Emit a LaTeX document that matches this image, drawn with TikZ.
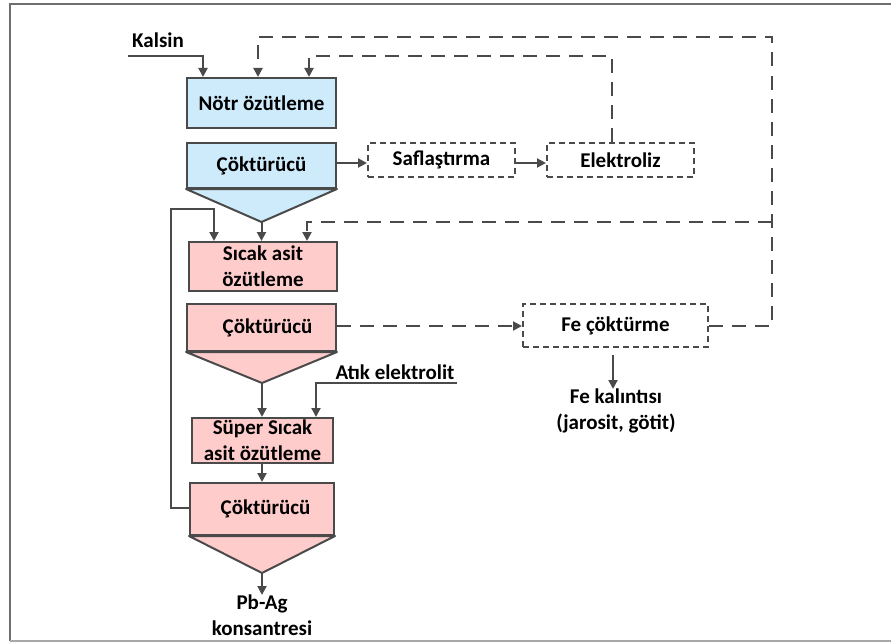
\documentclass[tikz,border=0pt]{standalone}
\usepackage{fontspec}
\setmainfont{Carlito}
\usetikzlibrary{arrows.meta}
\definecolor{ink}{HTML}{4A4A4A}
\definecolor{framegray}{HTML}{6E6E6E}
\definecolor{blueFill}{HTML}{CDEBFB}
\definecolor{pinkFill}{HTML}{FFCCCC}
\begin{document}
\begin{tikzpicture}[x=1pt,y=-1pt,
  txt/.style={font=\bfseries\fontsize{21}{26}\selectfont, text=black, align=center},
  box/.style={txt, draw=ink, line width=2pt, inner sep=0pt},
  bluebox/.style={box, fill=blueFill},
  pinkbox/.style={box, fill=pinkFill},
  dbox/.style={box, line width=2pt, dash pattern=on 6pt off 4pt},
  lbl/.style={txt, inner sep=0pt},
  wire/.style={draw=ink, line width=2pt},
  flow/.style={wire, -{Triangle[length=9pt,width=9pt]}},
  feed/.style={flow, dash pattern=on 14pt off 9pt},
  hopper/.style={fill=#1, draw=ink, line width=2pt, line join=round}]
\useasboundingbox (0,0) rectangle (891,642);

% frame
\draw[framegray, line width=2pt] (895,4) -- (9.5,4) -- (9.5,641);
\draw[framegray!60, line width=1.5pt] (9.5,641) -- (895,641);

% neutral leach stage
\node[bluebox, minimum width=149pt, minimum height=50pt] (nod) at (261.5,103) {Nötr özütleme};
\node[bluebox, minimum width=149pt, minimum height=45pt] (cok1) at (261.5,165.5) {Çöktürücü};
\coordinate (apex1) at (261.5,222);
\filldraw[hopper=blueFill] (cok1.south west) -- (apex1) -- (cok1.south east) -- cycle;

% purification and electrolysis
\node[dbox, minimum width=147pt, minimum height=34pt] (saf) at (441.5,160) {Saflaştırma};
\node[dbox, minimum width=147pt, minimum height=34pt] (ele) at (620.5,160) {Elektroliz};

% hot acid leach stage
\node[pinkbox, minimum width=148pt, minimum height=49pt] (sic) at (263,266.5) {Sıcak asit\\özütleme};
\node[pinkbox, minimum width=149pt, minimum height=47pt] (cok2) at (261.5,327.5) {\hspace*{12pt}Çöktürücü};
\coordinate (apex2) at (262,383);
\filldraw[hopper=pinkFill] (cok2.south west) -- (apex2) -- (cok2.south east) -- cycle;

% iron removal
\node[dbox, minimum width=185pt, minimum height=43pt] (fe) at (615.5,325.5) {Fe çöktürme};
\node[lbl, anchor=north] (fek) at (616,389) {Fe kalıntısı\\(jarosit, götit)};

% super hot acid leach stage
\node[pinkbox, minimum width=141pt, minimum height=45pt] (sup) at (262.5,440.5) {Süper Sıcak\\asit özütleme};
\node[pinkbox, minimum width=144pt, minimum height=52pt] (cok3) at (262,509) {\hspace*{7pt}Çöktürücü};
\coordinate (apex3) at (262,573);
\filldraw[hopper=pinkFill] (cok3.south west) -- (apex3) -- (cok3.south east) -- cycle;
\node[lbl, anchor=north] (pbag) at (262,595) {Pb-Ag\\konsantresi};

% inputs
\node[lbl] (kalsin) at (158,40) {Kalsin};
\coordinate (kin) at (128,56);
\node[lbl] (atik) at (395,372) {Atık elektrolit};
\coordinate (ain) at (457,383);

% solid connectors
\draw[flow] (kin) -| (nod.north -| 203,0);
\draw[flow] (cok1.east |- 0,163) -- (saf.west |- 0,163);
\draw[flow] (saf.east |- 0,163) -- (ele.west |- 0,163);
\draw[flow] (apex1) -- (sic.north -| apex1);
\draw[flow] (apex2) -- (sup.north -| apex2);
\draw[flow] (ain) -| (sup.north -| 316,0);
\draw[flow] (sup.south -| 262,0) -- (cok3.north -| 262,0);
\draw[flow] (apex3) -- (pbag.north -| apex3);
\draw[flow] (fe.south -| 613,0) ++(0,7) -- (fek.north -| 613,0);
\draw[flow] (cok3.west |- 0,508) -- (171,508) -- (171,209) -| (sic.north -| 214,0);

% dashed recycle streams
\draw[feed] (ele.north -| 612,0) -- (612,56) -| (nod.north -| 309,0);
\draw[feed] (fe.east) -- (772,325.5) -- (772,37) -| (nod.north -| 258,0);
\draw[feed] (772,222) -| (sic.north -| 307,0);
\draw[feed] (cok2.east |- 0,326) -- (fe.west |- 0,326);
\end{tikzpicture}
\end{document}
